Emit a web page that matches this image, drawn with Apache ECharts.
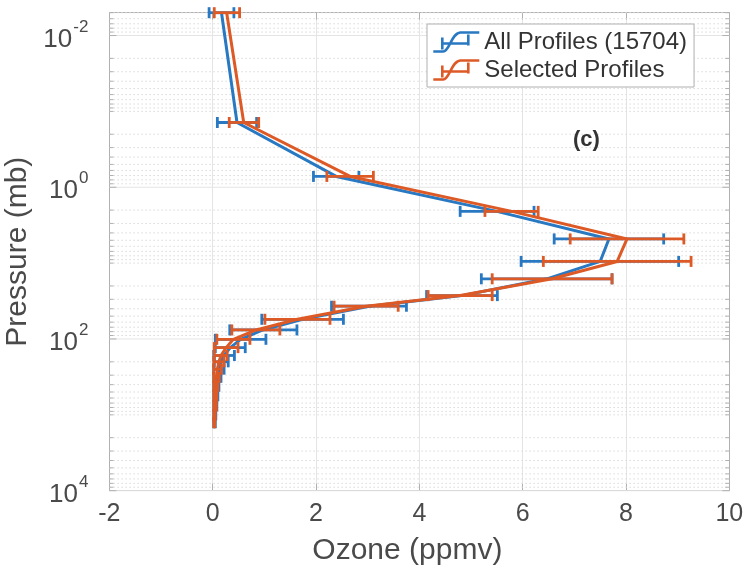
<!DOCTYPE html>
<html><head><meta charset="utf-8">
<script src="https://cdn.jsdelivr.net/npm/echarts@6/dist/echarts.min.js"></script>
<style>html,body{margin:0;padding:0;background:#fff}#c{width:746px;height:573px}</style>
</head><body><div id="c"></div>
<script>
// ---- data ----
const pressureLevels = [0.005, 0.14, 0.72, 2.08, 4.8, 9.5, 16.1, 26.8, 37, 55, 76, 101, 130, 165, 200, 250, 320, 420, 560, 760, 1000, 1270];
const allMean  = [0.17, 0.47, 2.39, 5.50, 7.67, 7.50, 6.47, 4.82, 3.03, 1.74, 0.97, 0.54, 0.34, 0.22, 0.16, 0.12, 0.09, 0.07, 0.06, 0.05, 0.04, 0.035];
const allLow   = [-0.07, 0.09, 1.95, 4.79, 6.61, 5.97, 5.20, 4.14, 2.30, 0.95, 0.33, 0.05, 0.05, 0.02, 0.03, 0.02, 0.02, 0.02, 0.02, 0.02, 0.02, 0.02];
const allHigh  = [0.41, 0.85, 2.83, 6.22, 8.73, 9.02, 7.73, 5.51, 3.75, 2.53, 1.63, 1.03, 0.63, 0.42, 0.30, 0.22, 0.16, 0.12, 0.10, 0.08, 0.06, 0.05];
const selMean  = [0.27, 0.60, 2.66, 5.79, 8.02, 7.83, 6.57, 4.79, 2.97, 1.64, 0.84, 0.40, 0.26, 0.16, 0.12, 0.09, 0.07, 0.06, 0.05, 0.04, 0.035, 0.03];
const selLow   = [0.03, 0.32, 2.21, 5.27, 6.92, 6.40, 5.41, 4.17, 2.35, 1.01, 0.37, 0.08, 0.03, 0.03, 0.02, 0.02, 0.02, 0.02, 0.02, 0.02, 0.02, 0.02];
const selHigh  = [0.52, 0.89, 3.11, 6.30, 9.12, 9.26, 7.73, 5.41, 3.59, 2.27, 1.30, 0.72, 0.49, 0.28, 0.22, 0.17, 0.13, 0.10, 0.08, 0.07, 0.05, 0.04];
const seriesNames = ['All Profiles (15704)', 'Selected Profiles'];
const xLimits = [-2, 10];
const xStep = 2;
const yLimits = [0.005, 10000];
const yLabelExponents = [-2, 0, 2, 4];

// ---- styles ----
const BLUE = '#2878C2', ORANGE = '#DD5A26';
const FONT = 'Liberation Sans, Arial, Helvetica, sans-serif';
const TXT = '#4a4a4a', BOX = '#b0b0b0';

// log grid values (1..9 x 10^k inside the y range)
const majorY = [], minorY = [];
for (let k = -3; k <= 4; k++) {
  for (let n = 1; n <= 9; n++) {
    const v = +(n * Math.pow(10, k)).toPrecision(6);
    if (v < yLimits[0] - 1e-12 || v > yLimits[1] + 1e-9) continue;
    if (n === 1 && yLabelExponents.indexOf(k) >= 0) majorY.push(v); else minorY.push(v);
  }
}

function gridRender(params, api) {
  const cs = params.coordSys;
  const y = api.coord([0, api.value(1)])[1];
  const major = api.value(2) === 1;
  return {
    type: 'group', children: [
      { type: 'line', shape: { x1: cs.x, y1: y, x2: cs.x + cs.width, y2: y },
        style: major ? { stroke: '#e4e4e4', lineWidth: 1 } : { stroke: '#dadada', lineWidth: 1, lineDash: [1.5, 2.5] } },
      { type: 'line', shape: { x1: cs.x, y1: y, x2: cs.x + (major ? 7 : 4), y2: y }, style: { stroke: BOX, lineWidth: 1 } },
      { type: 'line', shape: { x1: cs.x + cs.width - (major ? 7 : 4), y1: y, x2: cs.x + cs.width, y2: y }, style: { stroke: BOX, lineWidth: 1 } }
    ]
  };
}
function errRender(params, api) {
  const lo = api.coord([api.value(0), api.value(1)]);
  const hi = api.coord([api.value(2), api.value(1)]);
  const h = 5.5;
  const st = { stroke: api.visual('color'), lineWidth: 2.8, fill: null };
  return {
    type: 'group', children: [
      { type: 'line', shape: { x1: lo[0], y1: lo[1], x2: hi[0], y2: hi[1] }, style: st },
      { type: 'line', shape: { x1: lo[0], y1: lo[1] - h, x2: lo[0], y2: lo[1] + h }, style: st },
      { type: 'line', shape: { x1: hi[0], y1: hi[1] - h, x2: hi[0], y2: hi[1] + h }, style: st }
    ]
  };
}
const gridData = majorY.map(v => [0, v, 1]).concat(minorY.map(v => [0, v, 0]));
const mk = (means) => means.map((m, i) => [m, pressureLevels[i]]);
const mkErr = (lo, hi) => lo.map((l, i) => [l, pressureLevels[i], hi[i]]);

const legendIcon = 'path://M0,21 L10,21 C16,21 18,3 27,2 L46,2 M9,7 L9,19 M9,13 L35,13 M35,4 L35,15';

const yLabelFmt = function (v) {
  const e = Math.log10(v);
  const r = Math.round(e);
  if (Math.abs(e - r) > 1e-6 || yLabelExponents.indexOf(r) < 0) return '';
  return '{b|10}{s|' + r + '}';
};

const option = {
  animation: false,
  backgroundColor: '#fff',
  textStyle: { fontFamily: FONT },
  title: { text: '(c)', left: 573, top: 129, padding: 0,
    textStyle: { fontFamily: FONT, fontSize: 22, fontWeight: 'bold', color: '#333' } },
  grid: { left: 109.4, right: 16.7, top: 12.7, bottom: 82.3, containLabel: false, outerBoundsMode: 'none' },
  legend: {
    orient: 'vertical', left: 427, top: 24,
    padding: [6, 7, 5, 5], itemGap: 4, itemWidth: 46, itemHeight: 22,
    backgroundColor: '#fff', borderColor: '#b0b0b0', borderWidth: 1,
    textStyle: { fontFamily: FONT, fontSize: 24, color: '#333', lineHeight: 24 },
    selectedMode: false,
    data: [
      { name: seriesNames[0], icon: legendIcon, itemStyle: { color: 'transparent', borderColor: BLUE, borderWidth: 2.6 } },
      { name: seriesNames[1], icon: legendIcon, itemStyle: { color: 'transparent', borderColor: ORANGE, borderWidth: 2.6 } }
    ]
  },
  xAxis: [
    { type: 'value', min: xLimits[0], max: xLimits[1], interval: xStep, position: 'bottom',
      name: 'Ozone (ppmv)', nameLocation: 'middle', nameGap: 45,
      nameTextStyle: { fontFamily: FONT, fontSize: 30, color: TXT, padding: [0, 24, 0, 0] },
      axisLine: { show: true, onZero: false, lineStyle: { color: BOX, width: 1 } },
      axisTick: { show: true, inside: true, length: 7, lineStyle: { color: BOX } },
      axisLabel: { fontFamily: FONT, fontSize: 25, color: TXT, margin: 11 },
      splitLine: { show: true, lineStyle: { color: '#e4e4e4', width: 1 } } },
    { type: 'value', min: xLimits[0], max: xLimits[1], interval: xStep, position: 'top',
      axisLine: { show: true, onZero: false, lineStyle: { color: BOX, width: 1 } },
      axisTick: { show: true, inside: true, length: 7, lineStyle: { color: BOX } },
      axisLabel: { show: false }, splitLine: { show: false } }
  ],
  yAxis: [
    { type: 'log', logBase: 10, min: yLimits[0], max: yLimits[1], inverse: true, position: 'left',
      name: 'Pressure (mb)', nameLocation: 'middle', nameGap: 64, nameRotate: 90,
      nameTextStyle: { fontFamily: FONT, fontSize: 30, color: TXT },
      axisLine: { show: true, onZero: false, lineStyle: { color: BOX, width: 1 } },
      axisTick: { show: false }, splitLine: { show: false }, minorTick: { show: false },
      axisLabel: { formatter: yLabelFmt, margin: 21, color: TXT, showMinLabel: false,
        rich: {
          b: { fontFamily: FONT, fontSize: 26, color: TXT, verticalAlign: 'bottom', padding: [8, 1, 0, 0] },
          s: { fontFamily: FONT, fontSize: 17, color: TXT, verticalAlign: 'top' }
        } } },
    { type: 'log', logBase: 10, min: yLimits[0], max: yLimits[1], inverse: true, position: 'right',
      axisLine: { show: true, onZero: false, lineStyle: { color: BOX, width: 1 } },
      axisTick: { show: false }, axisLabel: { show: false }, splitLine: { show: false } }
  ],
  series: [
    { type: 'custom', name: 'grid', renderItem: gridRender, data: gridData, z: 1, silent: true,
      encode: { x: 0, y: 1 }, xAxisIndex: 0, yAxisIndex: 0 },
    { type: 'line', name: seriesNames[0], data: mk(allMean), showSymbol: false, symbol: 'none',
      lineStyle: { color: BLUE, width: 3 }, itemStyle: { color: BLUE }, z: 3 },
    { type: 'custom', name: 'err0', renderItem: errRender, data: mkErr(allLow, allHigh),
      itemStyle: { color: BLUE }, encode: { x: [0, 2], y: 1 }, z: 3 },
    { type: 'line', name: seriesNames[1], data: mk(selMean), showSymbol: false, symbol: 'none',
      lineStyle: { color: ORANGE, width: 3 }, itemStyle: { color: ORANGE }, z: 4 },
    { type: 'custom', name: 'err1', renderItem: errRender, data: mkErr(selLow, selHigh),
      itemStyle: { color: ORANGE }, encode: { x: [0, 2], y: 1 }, z: 4 }
  ]
};
const chart = echarts.init(document.getElementById('c'), null, { renderer: 'canvas' });
chart.setOption(option);
</script>
</body></html>
